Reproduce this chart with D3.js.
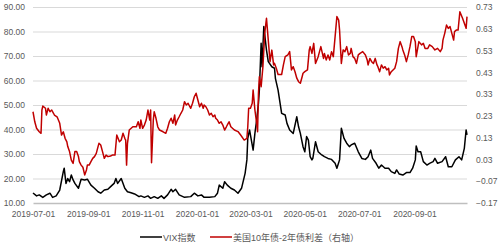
<!DOCTYPE html>
<html lang="zh">
<head>
<meta charset="UTF-8">
<title>VIX vs 10Y-2Y</title>
<script src="https://cdn.jsdelivr.net/npm/d3@7"></script>
<style>
  body { margin: 0; background: #fff; }
  svg { display: block; font-family: "Liberation Sans", "Noto Sans CJK SC", sans-serif; }
  .tick text { fill: #595959; font-size: 8.5px; }
</style>
</head>
<body>
<svg width="498" height="244"></svg>
<script>
// VIX index (left axis)
const vixDates = [
  '2019-07-01','2019-07-05','2019-07-08','2019-07-12','2019-07-16','2019-07-20','2019-07-23','2019-07-27','2019-07-31',
  '2019-08-04','2019-08-05','2019-08-07','2019-08-09','2019-08-11','2019-08-13','2019-08-15','2019-08-17','2019-08-21','2019-08-24','2019-08-28','2019-08-31',
  '2019-09-04','2019-09-08','2019-09-12','2019-09-15','2019-09-19','2019-09-23','2019-09-27','2019-09-30',
  '2019-10-02','2019-10-04','2019-10-08','2019-10-12','2019-10-15','2019-10-19','2019-10-23','2019-10-28','2019-10-30',
  '2019-11-03','2019-11-07','2019-11-10','2019-11-14','2019-11-18','2019-11-22','2019-11-25','2019-11-29',
  '2019-12-03','2019-12-05','2019-12-08','2019-12-12','2019-12-18','2019-12-25','2019-12-29',
  '2020-01-02','2020-01-06','2020-01-09','2020-01-15','2020-01-21','2020-01-24','2020-01-26','2020-01-30',
  '2020-02-01','2020-02-04','2020-02-08','2020-02-12','2020-02-16','2020-02-20','2020-02-24','2020-02-26','2020-02-27','2020-02-29',
  '2020-03-04','2020-03-06','2020-03-08','2020-03-10','2020-03-11','2020-03-13','2020-03-14','2020-03-16','2020-03-19','2020-03-21','2020-03-25','2020-03-28','2020-03-29',
  '2020-04-01','2020-04-05','2020-04-09','2020-04-11','2020-04-14','2020-04-18','2020-04-22','2020-04-24','2020-04-26','2020-04-29',
  '2020-05-01','2020-05-03','2020-05-05','2020-05-07','2020-05-09','2020-05-10','2020-05-13','2020-05-16','2020-05-20','2020-05-23','2020-05-27','2020-05-31',
  '2020-06-04','2020-06-06','2020-06-09','2020-06-11','2020-06-14','2020-06-17','2020-06-20','2020-06-22','2020-06-26','2020-06-30',
  '2020-07-04','2020-07-08','2020-07-11','2020-07-14','2020-07-16','2020-07-20','2020-07-23','2020-07-26','2020-07-30',
  '2020-08-03','2020-08-06','2020-08-10','2020-08-12','2020-08-15','2020-08-19','2020-08-23','2020-08-27','2020-08-30',
  '2020-09-02','2020-09-03','2020-09-05','2020-09-08','2020-09-11','2020-09-15','2020-09-18','2020-09-22','2020-09-24','2020-09-27',
  '2020-10-02','2020-10-06','2020-10-09','2020-10-13','2020-10-17','2020-10-21','2020-10-24','2020-10-27','2020-10-29','2020-10-30'
];
const vixValues = [
  14.1,12.9,13.3,12.3,13.3,14.0,12.3,12.9,15.3,
  22.8,24.2,18.0,20.0,18.7,21.4,19.4,18.0,16.0,19.7,19.4,19.7,
  17.3,16.0,14.6,14.0,15.3,15.6,17.0,18.0,
  20.0,18.0,20.0,16.0,14.6,14.2,13.7,12.6,12.9,
  12.3,12.9,11.9,12.6,11.9,12.9,11.9,13.3,
  15.6,14.6,15.6,13.3,12.3,12.6,14.0,
  12.9,13.3,12.3,12.3,12.6,14.0,17.3,16.0,
  18.7,17.3,16.0,15.3,14.0,16.0,22.1,27.6,36.4,39.8,
  31.6,38.4,43.9,50.7,56.1,75.2,65.6,82.0,72.4,67.7,65.6,65.0,60.9,
  56.1,46.6,45.9,42.5,39.8,38.4,45.2,41.1,38.4,33.0,
  30.9,37.1,35.7,28.9,27.6,28.2,35.0,30.9,29.6,28.9,28.2,27.8,
  26.2,24.2,27.6,40.5,36.4,34.4,33.0,33.7,34.4,30.9,
  28.2,27.8,28.9,31.6,28.2,26.2,24.2,25.5,24.2,
  24.2,22.8,22.1,23.5,21.8,21.4,22.4,22.4,24.2,
  27.6,33.3,30.9,30.9,26.9,25.5,26.2,26.9,28.2,26.2,
  26.9,28.9,24.8,24.8,27.6,28.9,27.6,32.3,39.8,37.8
];

// US 10Y-2Y treasury spread (right axis)
const spreadDates = [
  '2019-07-01','2019-07-03','2019-07-05','2019-07-08','2019-07-10','2019-07-11','2019-07-12','2019-07-15','2019-07-16','2019-07-18','2019-07-20','2019-07-22','2019-07-24','2019-07-25','2019-07-28','2019-07-31',
  '2019-08-02','2019-08-04','2019-08-06','2019-08-08','2019-08-09','2019-08-11','2019-08-13','2019-08-15','2019-08-17','2019-08-19','2019-08-21','2019-08-22','2019-08-24','2019-08-26','2019-08-28','2019-08-30','2019-08-31',
  '2019-09-02','2019-09-04','2019-09-06','2019-09-08','2019-09-10','2019-09-12','2019-09-13','2019-09-15','2019-09-17','2019-09-19','2019-09-21','2019-09-23','2019-09-26','2019-09-28',
  '2019-10-01','2019-10-03','2019-10-06','2019-10-08','2019-10-10','2019-10-12','2019-10-13','2019-10-14','2019-10-15','2019-10-17','2019-10-21','2019-10-25','2019-10-27','2019-10-29','2019-10-30',
  '2019-11-01','2019-11-03','2019-11-05','2019-11-07','2019-11-09','2019-11-10','2019-11-11','2019-11-13','2019-11-14','2019-11-16','2019-11-18','2019-11-20','2019-11-24','2019-11-27','2019-11-29',
  '2019-12-01','2019-12-03','2019-12-05','2019-12-07','2019-12-08','2019-12-10','2019-12-12','2019-12-14','2019-12-16','2019-12-18','2019-12-20','2019-12-22','2019-12-24','2019-12-25','2019-12-27','2019-12-29','2019-12-31',
  '2020-01-02','2020-01-04','2020-01-06','2020-01-08','2020-01-09','2020-01-11','2020-01-13','2020-01-15','2020-01-17','2020-01-19','2020-01-21','2020-01-22','2020-01-24','2020-01-26','2020-01-28','2020-01-30',
  '2020-02-01','2020-02-03','2020-02-05','2020-02-06','2020-02-08','2020-02-12','2020-02-16','2020-02-19','2020-02-23','2020-02-26','2020-02-27','2020-02-28',
  '2020-03-01','2020-03-03','2020-03-04','2020-03-06','2020-03-08','2020-03-09','2020-03-10','2020-03-11','2020-03-13','2020-03-15','2020-03-17','2020-03-19','2020-03-21','2020-03-23','2020-03-25','2020-03-27','2020-03-28','2020-03-30',
  '2020-04-01','2020-04-05','2020-04-07','2020-04-09','2020-04-12','2020-04-14','2020-04-16','2020-04-18','2020-04-20','2020-04-22','2020-04-24','2020-04-26','2020-04-28','2020-04-29',
  '2020-05-01','2020-05-04','2020-05-06','2020-05-07','2020-05-09','2020-05-11','2020-05-13','2020-05-16','2020-05-19','2020-05-22','2020-05-23','2020-05-25','2020-05-27','2020-05-29','2020-05-31',
  '2020-06-02','2020-06-04','2020-06-06','2020-06-08','2020-06-09','2020-06-11','2020-06-13','2020-06-15','2020-06-17','2020-06-19','2020-06-21','2020-06-22','2020-06-24','2020-06-26','2020-06-28','2020-06-30',
  '2020-07-02','2020-07-05','2020-07-08','2020-07-10','2020-07-11','2020-07-13','2020-07-15','2020-07-17','2020-07-19','2020-07-21','2020-07-22','2020-07-24','2020-07-26','2020-07-28','2020-07-30',
  '2020-08-01','2020-08-03','2020-08-04','2020-08-06','2020-08-08','2020-08-10','2020-08-12','2020-08-14','2020-08-16','2020-08-18','2020-08-19','2020-08-21','2020-08-23','2020-08-25','2020-08-27','2020-08-29','2020-08-31',
  '2020-09-02','2020-09-03','2020-09-05','2020-09-06','2020-09-09','2020-09-11','2020-09-13','2020-09-16','2020-09-18','2020-09-21','2020-09-24','2020-09-27','2020-09-30',
  '2020-10-02','2020-10-03','2020-10-05','2020-10-07','2020-10-09','2020-10-11','2020-10-13','2020-10-15','2020-10-16','2020-10-18','2020-10-20','2020-10-22','2020-10-25','2020-10-27','2020-10-29','2020-10-30'
];
const spreadValues = [
  0.249,0.203,0.173,0.157,0.150,0.257,0.275,0.265,0.234,0.265,0.249,0.257,0.242,0.234,0.226,0.196,
  0.142,0.157,0.127,0.111,0.089,0.066,0.027,0.012,0.066,0.066,0.043,0.020,0.004,-0.006,-0.041,-0.018,0.004,
  0.004,0.020,0.035,0.043,0.058,0.089,0.104,0.096,0.066,0.035,0.050,0.043,0.046,0.050,
  0.050,0.142,0.111,0.119,0.150,0.127,0.119,0.004,0.104,0.165,0.180,0.180,0.203,0.173,0.211,
  0.173,0.188,0.211,0.257,0.211,0.257,0.015,0.211,0.249,0.219,0.180,0.165,0.157,0.150,0.173,
  0.203,0.219,0.196,0.234,0.188,0.211,0.226,0.242,0.257,0.295,0.280,0.288,0.272,0.265,0.288,0.318,0.334,
  0.303,0.272,0.288,0.265,0.280,0.272,0.257,0.234,0.242,0.226,0.234,0.219,0.211,0.196,0.203,0.188,
  0.165,0.180,0.196,0.203,0.180,0.165,0.158,0.142,0.119,0.127,0.180,0.265,
  0.265,0.288,0.349,0.257,0.196,0.157,0.334,0.410,0.364,0.456,0.609,0.678,0.578,0.479,0.532,0.464,0.471,0.449,
  0.420,0.420,0.464,0.502,0.510,0.525,0.441,0.456,0.433,0.403,0.387,0.380,0.410,0.426,
  0.433,0.441,0.533,0.548,0.517,0.563,0.471,0.502,0.548,0.494,0.517,0.487,0.510,0.487,0.525,
  0.502,0.594,0.686,0.670,0.624,0.471,0.533,0.525,0.548,0.510,0.517,0.540,0.502,0.494,0.471,0.510,
  0.517,0.525,0.510,0.487,0.464,0.494,0.479,0.471,0.494,0.464,0.456,0.433,0.464,0.449,0.456,
  0.441,0.449,0.418,0.433,0.441,0.449,0.479,0.540,0.571,0.548,0.533,0.510,0.479,0.510,0.548,0.594,0.594,
  0.571,0.502,0.548,0.571,0.556,0.563,0.540,0.540,0.556,0.548,0.533,0.540,0.525,
  0.540,0.578,0.609,0.647,0.632,0.640,0.609,0.578,0.617,0.624,0.624,0.708,0.678,0.655,0.632,0.686
];

const xTicks = ['2019-07-01','2019-09-01','2019-11-01','2020-01-01','2020-03-01','2020-05-01','2020-07-01','2020-09-01'];
const leftTicks = [10, 20, 30, 40, 50, 60, 70, 80, 90];
const rightTicks = [-0.17, -0.07, 0.03, 0.13, 0.23, 0.33, 0.43, 0.53, 0.63, 0.73];
const seriesNames = ['VIX指数', '美国10年债-2年债利差（右轴）'];
const seriesColors = ['#000000', '#c00000'];

const parse = d3.timeParse('%Y-%m-%d');
const vix = vixDates.map((d, i) => ({date: parse(d), v: vixValues[i]}));
const spread = spreadDates.map((d, i) => ({date: parse(d), v: spreadValues[i]}));

const plotLeft = 33, plotRight = 467, plotTop = 7, plotBottom = 203;
const svg = d3.select('svg');

const x = d3.scaleTime().domain([parse('2019-07-01'), parse('2020-10-30')]).range([plotLeft, plotRight]);
const yL = d3.scaleLinear().domain([10, 90]).range([plotBottom, plotTop]);
const yR = d3.scaleLinear().domain([-0.17, 0.73]).range([plotBottom, plotTop]);

// gridlines
svg.append('g')
  .attr('transform', `translate(${plotLeft},0)`)
  .call(d3.axisLeft(yL).tickValues(leftTicks.slice(1)).tickSize(-(plotRight - plotLeft)).tickFormat(''))
  .call(g => g.select('.domain').remove())
  .call(g => g.selectAll('line').attr('stroke', '#d9d9d9').attr('stroke-width', 1));

// left axis labels
svg.append('g')
  .attr('transform', `translate(${plotLeft},0)`)
  .call(d3.axisLeft(yL).tickValues(leftTicks).tickSize(0).tickPadding(8).tickFormat(d3.format('.2f')))
  .call(g => g.select('.domain').remove());

// right axis labels
svg.append('g')
  .attr('transform', `translate(${plotRight},0)`)
  .call(d3.axisRight(yR).tickValues(rightTicks).tickSize(0).tickPadding(9).tickFormat(d3.format('.2f')))
  .call(g => g.select('.domain').remove());

// bottom axis
svg.append('g')
  .attr('transform', `translate(0,${plotBottom})`)
  .call(d3.axisBottom(x).tickValues(xTicks.map(parse)).tickSize(0).tickSizeOuter(0).tickPadding(8)
    .tickFormat(d3.timeFormat('%Y-%m-%d')))
  .call(g => g.select('.domain').attr('stroke', '#bfbfbf').attr('stroke-width', 1.5));

const lineL = d3.line().x(d => x(d.date)).y(d => yL(d.v));
const lineR = d3.line().x(d => x(d.date)).y(d => yR(d.v));

svg.append('path').datum(vix)
  .attr('fill', 'none').attr('stroke', seriesColors[0]).attr('stroke-width', 1.5)
  .attr('stroke-linejoin', 'round').attr('d', lineL);

svg.append('path').datum(spread)
  .attr('fill', 'none').attr('stroke', seriesColors[1]).attr('stroke-width', 1.5)
  .attr('stroke-linejoin', 'round').attr('d', lineR);

// legend
const legendX = [140, 210];
legendX.forEach((lx, i) => {
  svg.append('line')
    .attr('x1', lx).attr('x2', lx + 22).attr('y1', 237).attr('y2', 237)
    .attr('stroke', seriesColors[i]).attr('stroke-width', 1.5);
  svg.append('text')
    .attr('x', lx + 23).attr('y', 240.5)
    .attr('font-size', 9).attr('fill', '#595959')
    .text(seriesNames[i]);
});
</script>
</body>
</html>
